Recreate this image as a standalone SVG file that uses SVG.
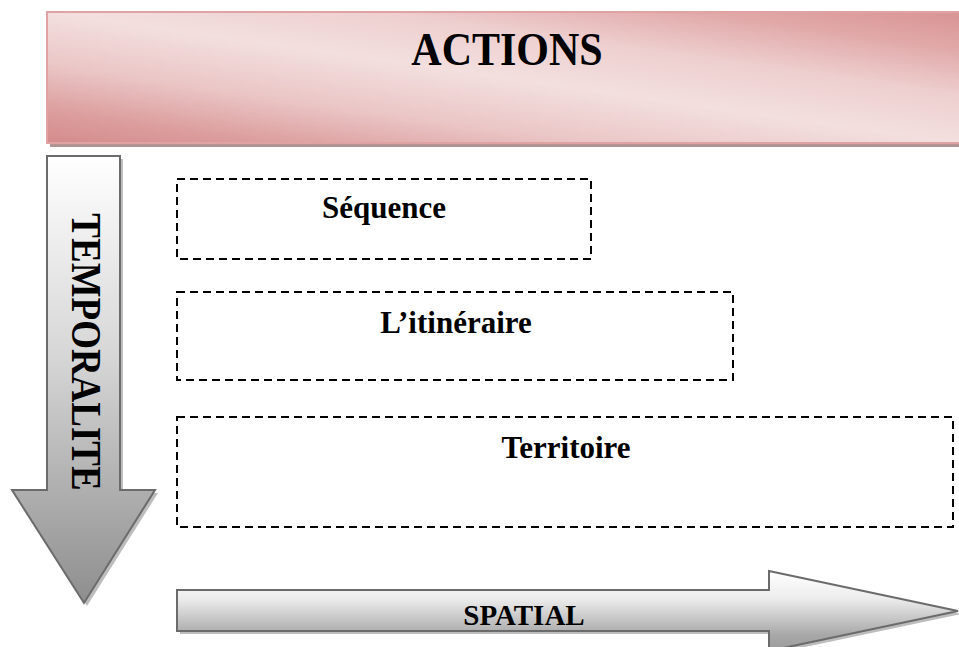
<svg xmlns="http://www.w3.org/2000/svg" width="959" height="647" viewBox="0 0 959 647">
  <defs>
    <linearGradient id="pinkBand" gradientUnits="userSpaceOnUse" x1="484" y1="206" x2="521" y2="-51">
      <stop offset="0" stop-color="#d48b8b"/>
      <stop offset="0.12" stop-color="#dc9d9d"/>
      <stop offset="0.3" stop-color="#ebc6c6"/>
      <stop offset="0.5" stop-color="#f3dfdf"/>
      <stop offset="0.68" stop-color="#eecfcf"/>
      <stop offset="0.86" stop-color="#e1a8a8"/>
      <stop offset="1" stop-color="#d99393"/>
    </linearGradient>
    <linearGradient id="greyDown" x1="0" y1="0" x2="0" y2="1">
      <stop offset="0" stop-color="#ffffff"/>
      <stop offset="0.45" stop-color="#d6d6d6"/>
      <stop offset="1" stop-color="#8e8e8e"/>
    </linearGradient>
    <linearGradient id="greyRight" x1="0" y1="0" x2="0" y2="1">
      <stop offset="0" stop-color="#ffffff"/>
      <stop offset="0.35" stop-color="#ececec"/>
      <stop offset="0.8" stop-color="#a8a8a8"/>
      <stop offset="1" stop-color="#9a9a9a"/>
    </linearGradient>
    <style>
      .label { font-family: "Liberation Serif", "Times New Roman", serif; font-weight: bold; fill: #000; }
      .box { fill: none; stroke: #000; stroke-width: 2; stroke-dasharray: 8 5; }
      .arrow { stroke: #6b6b6b; stroke-width: 2; stroke-linejoin: miter; }
      .shadow { fill: #bdbdbd; }
    </style>
  </defs>

  <!-- header banner -->
  <g id="actions">
    <rect x="50" y="16" width="915" height="131" fill="#b09494"/>
    <rect x="47" y="12" width="915" height="131" fill="url(#pinkBand)" stroke="#e0a3a3" stroke-width="2"/>
    <text class="label" font-size="42" text-anchor="middle" transform="translate(507,65) scale(1,1.08)">ACTIONS</text>
  </g>

  <!-- time axis -->
  <g id="temporalite">
    <path class="shadow" d="M50,159 L123,159 L123,493 L158,493 L87,606 L15,493 L50,493 Z"/>
    <path class="arrow" fill="url(#greyDown)" d="M47,156 L120,156 L120,490 L155,490 L84,603 L12,490 L47,490 Z"/>
    <text class="label" font-size="37" text-anchor="middle" transform="translate(72,352) rotate(90) scale(1,1.12)">TEMPORALITE</text>
  </g>

  <!-- space axis -->
  <g id="spatial">
    <path class="shadow" d="M180,593 L772,593 L772,574 L961,614 L772,654 L772,634 L180,634 Z"/>
    <path class="arrow" fill="url(#greyRight)" d="M177,590 L769,590 L769,571 L958,611 L769,651 L769,631 L177,631 Z"/>
    <text class="label" x="524" y="625" font-size="29" text-anchor="middle">SPATIAL</text>
  </g>

  <!-- nested scales -->
  <g id="sequence">
    <rect class="box" x="177" y="179" width="414" height="80"/>
    <text class="label" x="384" y="218" font-size="31" text-anchor="middle">Séquence</text>
  </g>
  <g id="itineraire">
    <rect class="box" x="177" y="292" width="556" height="88"/>
    <text class="label" x="456" y="333" font-size="31" text-anchor="middle">L’itinéraire</text>
  </g>
  <g id="territoire">
    <rect class="box" x="177" y="417" width="776" height="110"/>
    <text class="label" x="566" y="458" font-size="31" text-anchor="middle">Territoire</text>
  </g>

  <g id="connectors"/>
</svg>
